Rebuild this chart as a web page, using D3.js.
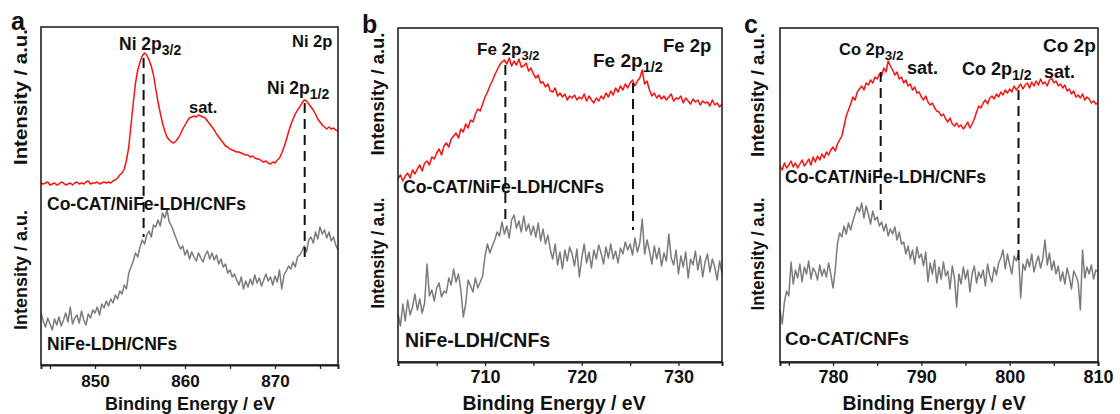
<!DOCTYPE html>
<html>
<head>
<meta charset="utf-8">
<script src="https://cdn.jsdelivr.net/npm/d3@7"></script>
<style>
  body { margin: 0; background: #fff; }
  text { font-family: "Liberation Sans", Arial, sans-serif; font-weight: bold; fill: #111; }
</style>
</head>
<body>
<svg id="chart" width="1120" height="414"></svg>
<script>
// ---------- panel a : Ni 2p ----------
const niEnergy = [
  844,844.25,844.5,844.75,845,845.25,845.5,845.75,
  846,846.25,846.5,846.75,847,847.25,847.5,847.75,
  848,848.25,848.5,848.75,849,849.25,849.5,849.75,
  850,850.25,850.5,850.75,851,851.25,851.5,851.75,
  852,852.25,852.5,852.75,853,853.25,853.5,853.75,
  854,854.25,854.5,854.75,855,855.25,855.5,855.75,
  856,856.25,856.5,856.75,857,857.25,857.5,857.75,
  858,858.25,858.5,858.75,859,859.25,859.5,859.75,
  860,860.25,860.5,860.75,861,861.25,861.5,861.75,
  862,862.25,862.5,862.75,863,863.25,863.5,863.75,
  864,864.25,864.5,864.75,865,865.25,865.5,865.75,
  866,866.25,866.5,866.75,867,867.25,867.5,867.75,
  868,868.25,868.5,868.75,869,869.25,869.5,869.75,
  870,870.25,870.5,870.75,871,871.25,871.5,871.75,
  872,872.25,872.5,872.75,873,873.25,873.5,873.75,
  874,874.25,874.5,874.75,875,875.25,875.5,875.75,
  876,876.25,876.5,876.75,877]
// Co-CAT/NiFe-LDH/CNFs (red)
const niHybrid = [
  182,181,182,183,180,181,182,180,
  181,183,182,180,181,182,180,182,
  183,181,182,181,183,184,181,182,
  182,183,181,182,183,182,183,182,
  184,185,187,190,192,196,205,218,
  240,262,282,295,303,309,312,310,
  305,299,290,276,263,252,242,234,
  228,225,223,222,224,227,231,236,
  240,244,247,248,249,248,250,249,
  248,247,244,241,238,235,231,228,
  225,222,219,218,216,215,214,213,
  213,212,211,210,210,208,209,207,
  206,206,204,203,204,202,201,203,
  202,205,207,212,218,225,233,240,
  246,251,255,258,262,265,264,261,
  258,255,251,246,243,240,238,236,
  238,236,237,235,234]
// NiFe-LDH/CNFs (gray)
const niBare = [
  52,44,38,47,41,35,46,40,
  48,39,45,52,43,58,41,47,
  50,42,54,45,40,51,47,55,
  52,58,50,61,57,64,59,66,
  62,70,66,74,71,80,76,92,
  98,104,112,108,118,125,121,130,
  134,128,140,138,145,139,152,147,
  155,143,139,133,127,121,116,119,
  110,115,106,113,108,104,112,107,
  103,110,114,106,112,105,110,101,
  106,98,101,92,95,88,91,85,
  80,88,76,84,78,86,80,90,
  82,87,79,85,91,84,88,80,
  89,83,95,76,90,94,99,96,
  103,98,108,110,114,119,113,125,
  128,122,133,126,138,131,135,127,
  133,124,128,120,115]
const niPeaks = [855.4, 873.3]
const niPeakTop = [307, 262]
const niPeakBottom = [128, 104]
const niTicks = [845, 850, 855, 860, 865, 870, 875]

// ---------- panel b : Fe 2p ----------
const feEnergy = [
  701,701.25,701.5,701.75,702,702.25,702.5,702.75,
  703,703.25,703.5,703.75,704,704.25,704.5,704.75,
  705,705.25,705.5,705.75,706,706.25,706.5,706.75,
  707,707.25,707.5,707.75,708,708.25,708.5,708.75,
  709,709.25,709.5,709.75,710,710.25,710.5,710.75,
  711,711.25,711.5,711.75,712,712.25,712.5,712.75,
  713,713.25,713.5,713.75,714,714.25,714.5,714.75,
  715,715.25,715.5,715.75,716,716.25,716.5,716.75,
  717,717.25,717.5,717.75,718,718.25,718.5,718.75,
  719,719.25,719.5,719.75,720,720.25,720.5,720.75,
  721,721.25,721.5,721.75,722,722.25,722.5,722.75,
  723,723.25,723.5,723.75,724,724.25,724.5,724.75,
  725,725.25,725.5,725.75,726,726.25,726.5,726.75,
  727,727.25,727.5,727.75,728,728.25,728.5,728.75,
  729,729.25,729.5,729.75,730,730.25,730.5,730.75,
  731,731.25,731.5,731.75,732,732.25,732.5,732.75,
  733,733.25,733.5,733.75,734,734.25,734.5]
const feHybrid = [
  183,187,181,186,189,184,192,188,
  193,197,191,199,201,197,205,203,
  209,213,207,216,219,215,223,226,
  229,224,233,230,238,234,242,240,
  248,253,251,258,265,270,276,281,
  287,292,297,300,302,298,304,296,
  301,297,303,295,296,299,291,294,
  288,284,287,279,280,275,278,271,
  270,274,266,269,265,268,262,266,
  264,267,262,265,263,268,261,266,
  262,259,264,261,266,263,269,265,
  271,267,274,270,276,272,278,274,
  279,282,276,281,284,292,278,281,
  272,266,269,264,267,263,266,262,
  265,268,261,264,263,266,259,264,
  261,258,263,260,262,257,261,259,
  260,256,262,257,259,255,258]
const feBare = [
  48,36,58,41,62,47,55,68,
  52,63,49,59,98,66,72,61,
  74,79,65,71,69,84,77,93,
  80,88,72,45,58,82,76,70,
  84,74,80,86,106,118,109,116,
  122,130,126,140,128,136,124,142,
  147,134,141,130,146,131,138,127,
  136,125,139,121,133,118,127,112,
  103,118,97,110,93,112,101,115,
  108,96,113,85,104,118,99,110,
  94,112,103,117,109,98,115,104,
  118,103,111,99,114,108,120,112,
  118,107,124,110,119,143,108,122,
  111,98,116,103,114,96,109,101,
  128,104,97,112,88,106,95,110,
  84,103,97,111,92,106,85,100,
  108,90,103,95,82,101,89]
const fePeaks = [712.1, 725.3]
const fePeakTop = [297, 279]
const fePeakBottom = [137, 132]
const feTicks = [705, 710, 715, 720, 725, 730]

// ---------- panel c : Co 2p ----------
const coEnergy = [
  774,774.25,774.5,774.75,775,775.25,775.5,775.75,
  776,776.25,776.5,776.75,777,777.25,777.5,777.75,
  778,778.25,778.5,778.75,779,779.25,779.5,779.75,
  780,780.25,780.5,780.75,781,781.25,781.5,781.75,
  782,782.25,782.5,782.75,783,783.25,783.5,783.75,
  784,784.25,784.5,784.75,785,785.25,785.5,785.75,
  786,786.25,786.5,786.75,787,787.25,787.5,787.75,
  788,788.25,788.5,788.75,789,789.25,789.5,789.75,
  790,790.25,790.5,790.75,791,791.25,791.5,791.75,
  792,792.25,792.5,792.75,793,793.25,793.5,793.75,
  794,794.25,794.5,794.75,795,795.25,795.5,795.75,
  796,796.25,796.5,796.75,797,797.25,797.5,797.75,
  798,798.25,798.5,798.75,799,799.25,799.5,799.75,
  800,800.25,800.5,800.75,801,801.25,801.5,801.75,
  802,802.25,802.5,802.75,803,803.25,803.5,803.75,
  804,804.25,804.5,804.75,805,805.25,805.5,805.75,
  806,806.25,806.5,806.75,807,807.25,807.5,807.75,
  808,808.25,808.5,808.75,809,809.25,809.5,809.75,
  810]
const coHybrid = [
  196,192,199,194,197,201,195,199,
  194,198,202,196,199,203,197,205,
  200,206,202,208,204,210,207,212,
  215,211,218,222,226,236,246,252,
  258,265,262,270,273,276,272,279,
  277,282,279,285,283,288,286,294,
  290,301,296,292,287,290,283,285,
  279,282,276,278,272,275,269,270,
  265,262,266,260,257,259,254,251,
  250,246,248,243,240,244,238,236,
  239,235,237,233,236,240,234,238,
  243,250,256,254,259,262,258,264,
  266,263,268,265,270,267,272,269,
  273,270,276,272,275,278,273,277,
  279,274,280,276,281,277,283,278,
  280,276,282,284,279,281,276,278,
  274,277,271,273,268,271,265,267,
  264,268,262,265,263,259,261,258,
  259]
const coBare = [
  52,38,60,71,66,100,78,92,
  84,98,80,95,88,101,83,94,
  90,82,97,86,93,85,99,88,
  74,92,118,129,125,136,128,139,
  132,141,148,155,150,159,144,156,
  148,138,151,142,145,136,140,131,
  138,126,133,128,135,122,130,118,
  120,108,116,103,112,98,115,104,
  108,96,110,80,99,88,102,79,
  95,83,100,86,91,73,96,84,
  55,88,78,95,83,92,70,88,
  96,79,90,84,92,76,98,86,
  80,95,87,99,104,112,93,108,
  97,88,106,101,109,64,98,92,
  103,95,108,90,99,106,94,103,
  122,97,109,92,101,88,96,81,
  90,78,94,85,73,91,86,80,
  52,112,84,95,88,97,83,92,
  90]
const coPeaks = [785.4, 801.0]
const coPeakTop = [290, 272]
const coPeakBottom = [152, 99]
const coTicks = [775, 780, 785, 790, 795, 800, 805, 810]

// layout of the three panels
const panels = [
  { letter: "a", letterX: 11, letterY: 30,
    energy: niEnergy, hybrid: niHybrid, bare: niBare,
    peaks: niPeaks, peakTop: niPeakTop, peakBottom: niPeakBottom, ticks: niTicks,
    domain: [844, 877], left: 41, right: 338, top: 27, bottom: 365,
    tickFont: 17, tickPad: 6, titleX: 190, titleFont: 18,
    yLabelX: 27, yLabels: [[97, 136], [270, 120]],
    hybridName: ["Co-CAT/NiFe-LDH/CNFs", 47, 210, 17.5],
    bareName: ["NiFe-LDH/CNFs", 47, 350, 17.5],
    notes: [["Ni 2p", "3/2", 119, 50, 17.5, 14],
            ["Ni 2p", "", 292, 47, 16.5, 0],
            ["sat.", "", 189, 113, 16.5, 0],
            ["Ni 2p", "1/2", 267, 94, 17.5, 14]] },
  { letter: "b", letterX: 362, letterY: 33,
    energy: feEnergy, hybrid: feHybrid, bare: feBare,
    peaks: fePeaks, peakTop: fePeakTop, peakBottom: fePeakBottom, ticks: feTicks,
    domain: [701, 734.5], left: 398, right: 722, top: 28, bottom: 362,
    tickFont: 18, tickPad: 4, titleX: 554, titleFont: 19.4,
    yLabelX: 384, yLabels: [[94, 123], [253, 111]],
    hybridName: ["Co-CAT/NiFe-LDH/CNFs", 403, 193, 17.7],
    bareName: ["NiFe-LDH/CNFs", 405, 347, 19.5],
    notes: [["Fe 2p", "3/2", 477, 55, 17, 13],
            ["Fe 2p", "", 663, 52, 18.5, 0],
            ["Fe 2p", "1/2", 593, 67, 19, 14.5]] },
  { letter: "c", letterX: 744, letterY: 33,
    energy: coEnergy, hybrid: coHybrid, bare: coBare,
    peaks: coPeaks, peakTop: coPeakTop, peakBottom: coPeakBottom, ticks: coTicks,
    domain: [774, 810], left: 780, right: 1098, top: 28, bottom: 362,
    tickFont: 18, tickPad: 4, titleX: 934, titleFont: 19.4,
    yLabelX: 764, yLabels: [[95, 124], [254, 113]],
    hybridName: ["Co-CAT/NiFe-LDH/CNFs", 785, 183, 17.7],
    bareName: ["Co-CAT/CNFs", 785, 345, 19],
    notes: [["Co 2p", "3/2", 839, 55, 16.5, 13.5],
            ["sat.", "", 907, 74, 18, 0],
            ["Co 2p", "1/2", 962, 75, 18, 14],
            ["sat.", "", 1044, 78, 18, 0],
            ["Co 2p", "", 1043, 52, 19, 0]] }
]

const svg = d3.select("#chart")

// draws one XPS panel with its two spectra
function drawPanel(p) {
  const x = d3.scaleLinear().domain(p.domain).range([p.left, p.right])
  const y = d3.scaleLinear().domain([0, p.bottom - p.top]).range([p.bottom, p.top])
  const g = svg.append("g")

  // spectra
  const line = d3.line()
    .x(function(d, i) { return x(p.energy[i]) })
    .y(function(d) { return y(d) })

  g.append("path").datum(p.bare)
    .attr("fill", "none").attr("stroke", "#7b7b7b").attr("stroke-width", 1.5)
    .attr("stroke-linejoin", "round").attr("d", line)
  g.append("path").datum(p.hybrid)
    .attr("fill", "none").attr("stroke", "#ff1010").attr("stroke-width", 1.5)
    .attr("stroke-linejoin", "round").attr("d", line)

  // dashed peak markers
  g.selectAll(".peak").data(p.peaks).join("line")
    .attr("x1", function(d) { return x(d) }).attr("x2", function(d) { return x(d) })
    .attr("y1", function(d, i) { return y(p.peakTop[i]) })
    .attr("y2", function(d, i) { return y(p.peakBottom[i]) })
    .attr("stroke", "#111").attr("stroke-width", 2).attr("stroke-dasharray", "10,6")

  // frame
  g.append("rect")
    .attr("x", p.left).attr("y", p.top)
    .attr("width", p.right - p.left).attr("height", p.bottom - p.top)
    .attr("fill", "none").attr("stroke", "#222").attr("stroke-width", 1.6)

  // bottom axis, labels only every 10 eV
  const axis = g.append("g")
    .attr("transform", "translate(0," + p.bottom + ")")
    .call(d3.axisBottom(x)
      .tickValues(p.ticks).tickSize(4).tickPadding(p.tickPad)
      .tickFormat(function(d) { return d % 10 === 0 ? d : "" }))
  axis.select(".domain").attr("stroke", "#222").attr("stroke-width", 2)
  axis.selectAll(".tick line").attr("stroke", "#222").attr("stroke-width", 1.3)
  axis.selectAll(".tick text")
    .attr("font-size", p.tickFont)
    .attr("font-family", "Liberation Sans, Arial, sans-serif")
    .attr("fill", "#111")

  g.append("text")
    .attr("x", p.titleX).attr("y", 410)
    .attr("text-anchor", "middle").attr("font-size", p.titleFont)
    .text("Binding Energy / eV")

  // two stacked intensity labels
  p.yLabels.forEach(function(l) {
    g.append("text")
      .attr("transform", "translate(" + p.yLabelX + "," + l[0] + ") rotate(-90)")
      .attr("text-anchor", "middle").attr("font-size", 18)
      .attr("textLength", l[1]).attr("lengthAdjust", "spacingAndGlyphs")
      .text("Intensity / a.u.")
  })

  g.append("text")
    .attr("x", p.letterX).attr("y", p.letterY).attr("font-size", 25)
    .text(p.letter)

  ;[p.hybridName, p.bareName].forEach(function(n) {
    g.append("text").attr("x", n[1]).attr("y", n[2]).attr("font-size", n[3]).text(n[0])
  })

  // peak annotations with subscripts
  p.notes.forEach(function(n) {
    const t = g.append("text").attr("x", n[2]).attr("y", n[3]).attr("font-size", n[4])
    t.append("tspan").text(n[0])
    if (n[1] !== "") {
      t.append("tspan").attr("font-size", n[5]).attr("dy", 5).text(n[1])
    }
  })
}

panels.forEach(drawPanel)
</script>
</body>
</html>
